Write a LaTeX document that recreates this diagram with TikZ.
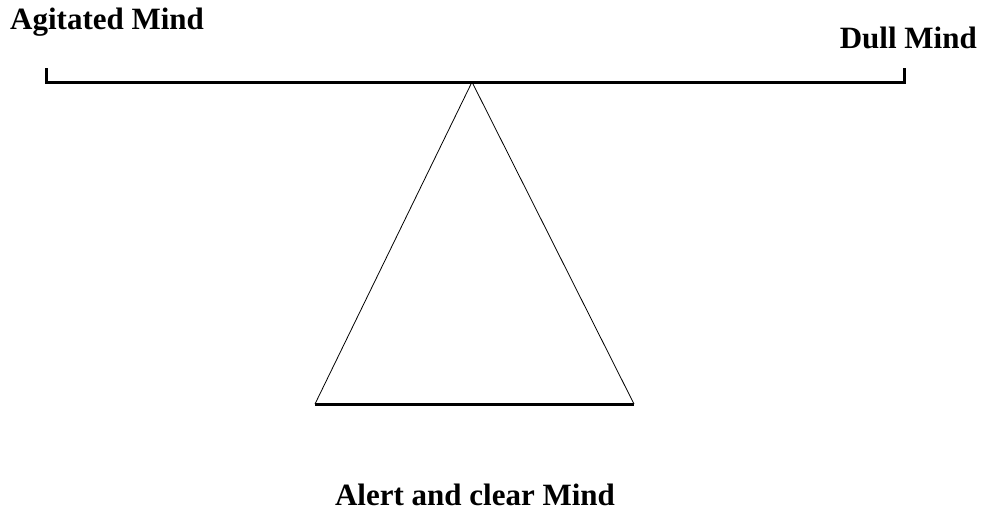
\documentclass[tikz,border=0pt]{standalone}
\usepackage{fontspec}
\setmainfont{Liberation Serif}
\begin{document}
\begin{tikzpicture}[x=1pt,y=-1pt,
  lbl/.style={font=\fontsize{31}{36}\selectfont\bfseries, inner sep=0pt},
  beam/.style={line width=3pt},
  side/.style={line width=0.8pt}]
\useasboundingbox (0,0) rectangle (983,514);
\coordinate (bl) at (46,69);
\coordinate (blb) at (46,82);
\coordinate (brb) at (904,82);
\coordinate (br) at (904,69);
\coordinate (apex) at (472,82);
\coordinate (tl) at (315,404);
\coordinate (tr) at (634,404);
\draw[beam, line cap=rect] (bl) -- (blb) -- (brb) -- (br);
\draw[side] (tl) -- (apex) -- (tr);
\draw[beam] (tl) -- (tr);
\node[lbl, anchor=west] (agit) at (10,22) {Agitated Mind};
\node[lbl, anchor=east] (dull) at (977,38) {Dull Mind};
\node[lbl] (alert) at (475,495) {Alert and clear Mind};
\end{tikzpicture}
\end{document}
